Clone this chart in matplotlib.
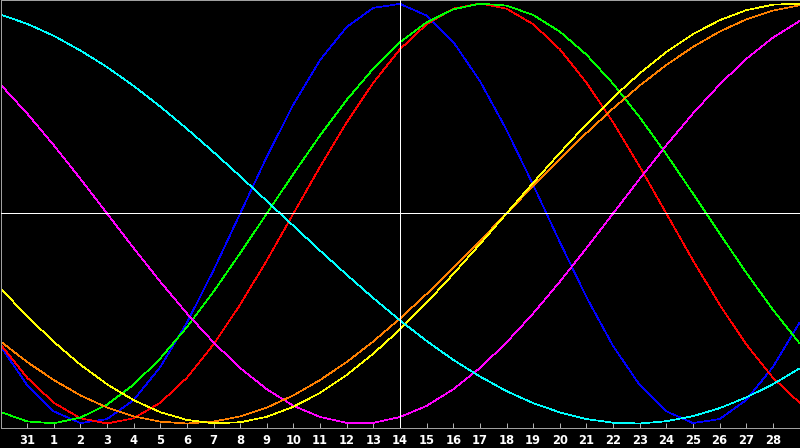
import matplotlib
matplotlib.use("Agg")
import matplotlib.pyplot as plt

# days shown on the x axis (30th of last month .. 1st of next month)
days = [30, 31] + list(range(1, 29)) + [1]

# cycle values in percent, one per day
physical = [-63.1, -81.7, -94.2, -99.8, -97.9, -88.8, -73.1, -52.0, -27.0, 0.0, 27.0,
            52.0, 73.1, 88.8, 97.9, 99.8, 94.2, 81.7, 63.1, 39.8, 13.6, -13.6, -39.8,
            -63.1, -81.7, -94.2, -99.8, -97.9, -88.8, -73.1, -52.0]
emotional = [-62.3, -78.2, -90.1, -97.5, -100.0, -97.5, -90.1, -78.2, -62.3, -43.4, -22.3,
             0.0, 22.3, 43.4, 62.3, 78.2, 90.1, 97.5, 100.0, 97.5, 90.1, 78.2, 62.3,
             43.4, 22.3, 0.0, -22.3, -43.4, -62.3, -78.2, -90.1]
intellectual = [-94.5, -99.0, -99.9, -97.2, -91.0, -81.5, -69.0, -54.1, -37.2, -18.9, 0.0,
                18.9, 37.2, 54.1, 69.0, 81.5, 91.0, 97.2, 99.9, 99.0, 94.5, 86.6, 75.6,
                61.8, 45.8, 28.2, 9.5, -9.5, -28.2, -45.8, -61.8]
intuitive = [61.4, 47.6, 32.5, 16.5, 0.0, -16.5, -32.5, -47.6, -61.4, -73.6, -83.7,
             -91.6, -96.9, -99.7, -99.7, -96.9, -91.6, -83.7, -73.6, -61.4, -47.6, -32.5,
             -16.5, 0.0, 16.5, 32.5, 47.6, 61.4, 73.6, 83.7, 91.6]
aesthetic = [-35.7, -48.9, -61.1, -72.0, -81.3, -88.9, -94.6, -98.3, -99.9, -99.4, -96.8,
             -92.0, -85.4, -76.9, -66.7, -55.2, -42.5, -28.8, -14.6, 0.0, 14.6, 28.8,
             42.5, 55.2, 66.7, 76.9, 85.4, 92.0, 96.8, 99.4, 99.9]
awareness = [-60.9, -70.7, -79.3, -86.6, -92.4, -96.6, -99.1, -100.0, -99.1, -96.6, -92.4,
             -86.6, -79.3, -70.7, -60.9, -50.0, -38.3, -25.9, -13.1, 0.0, 13.1, 25.9,
             38.3, 50.0, 60.9, 70.7, 79.3, 86.6, 92.4, 96.6, 99.1]
spiritual = [94.7, 90.3, 84.6, 77.6, 69.7, 60.7, 50.9, 40.3, 29.2, 17.7, 5.9,
             -5.9, -17.7, -29.2, -40.3, -50.9, -60.7, -69.7, -77.6, -84.6, -90.3, -94.7,
             -97.9, -99.6, -100.0, -98.9, -96.5, -92.7, -87.6, -81.3, -73.8]

today = 15  # index of the 14th

series = [
    (physical, "#0000ff"),
    (emotional, "#ff0000"),
    (intellectual, "#00ff00"),
    (intuitive, "#ff00ff"),
    (awareness, "#ff8000"),
    (aesthetic, "#ffff00"),
    (spiritual, "#00ffff"),
]

W, H = 800, 448
LW = 0.5  # one pixel, no smoothing
fig = plt.figure(figsize=(W / 100, H / 100), dpi=100, facecolor="black")
ax = fig.add_axes([0.5 / W, (H - 427.5) / H, 799 / W, 427 / H])
ax.set_facecolor("black")

x = list(range(len(days)))
for values, color in series:
    ax.plot(x, values, color=color, lw=LW, antialiased=False, zorder=2)

ax.axhline(0, color="white", lw=LW, antialiased=False, zorder=3)
ax.axvline(today, color="white", lw=LW, antialiased=False, zorder=3)

ax.set_xlim(0, len(days) - 1)
ax.set_ylim(-101.9, 101.4)

ax.set_xticks(x[1:-1])
ax.set_xticklabels([str(d) for d in days[1:-1]], color="white",
                   fontsize=8.3, fontweight="bold", family="DejaVu Sans")
ax.tick_params(axis="x", direction="in", length=3.6, width=LW, color="white", pad=4.5)
ax.set_yticks([])

for side in ["top", "left", "right", "bottom"]:
    ax.spines[side].set_color("#a0a0a0")
    ax.spines[side].set_linewidth(LW)
    ax.spines[side].set_antialiased(False)

fig.savefig("out.png", dpi=100, facecolor="black")
